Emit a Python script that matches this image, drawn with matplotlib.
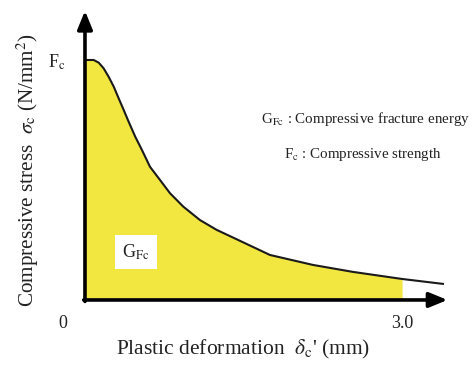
import matplotlib
matplotlib.use("Agg")
import matplotlib.pyplot as plt
import numpy as np

plt.rcParams["font.family"] = ["Liberation Serif", "DejaVu Serif"]
plt.rcParams["mathtext.fontset"] = "stix"

# Softening curve: plastic deformation (mm) vs. normalised compressive stress (sigma / Fc)
deformation = [0.0, 0.082, 0.130, 0.177, 0.224, 0.272, 0.319, 0.366, 0.413,
               0.476, 0.539, 0.615, 0.710, 0.804, 0.930, 1.088, 1.246, 1.435,
               1.75, 2.157, 2.535, 3.0, 3.387]
stress = [1.0, 1.0, 0.989, 0.965, 0.930, 0.889, 0.840, 0.792, 0.743,
          0.680, 0.625, 0.555, 0.500, 0.445, 0.389, 0.333, 0.292, 0.253,
          0.1875, 0.146, 0.117, 0.0875, 0.067]
x_limit = 3.0
tick_labels = ["0", "3.0"]

fig = plt.figure(figsize=(4.77, 3.65), dpi=100)
ax = fig.add_axes([0, 0, 1, 1])
ax.set_xlim(-0.804, 3.709)
ax.set_ylim(-0.271, 1.25)
ax.axis("off")

x = np.array(deformation)
y = np.array(stress)
mask = x <= x_limit
ax.fill_between(x[mask], 0, y[mask], color="#F2E640", lw=0, zorder=1)
ax.plot(x, y, color="#1a1a1a", lw=1.5, zorder=3, solid_joinstyle="round")

# axes with arrow heads
arrow = dict(arrowstyle="-|>,head_length=1.1,head_width=0.45", color="black",
             lw=2.6, shrinkA=0, shrinkB=0)
ax.annotate("", xy=(3.43, 0), xytext=(-0.012, 0), arrowprops=arrow, zorder=4)
ax.annotate("", xy=(0, 1.205), xytext=(0, -0.006), arrowprops=arrow, zorder=4)

ax.text(-0.21, -0.1, tick_labels[0], fontsize=13, ha="center", va="center", color="#222")
ax.text(3.0, -0.1, tick_labels[1], fontsize=13, ha="center", va="center", color="#222")
ax.text(-0.27, 0.99, r"F$_{\rm c}$", fontsize=13, ha="center", va="center", color="#222")

ax.text(1.67, 0.755, r"G$_{\rm Fc}$ : Compressive fracture energy", fontsize=10.8,
        ha="left", va="center", color="#222")
ax.text(1.88, 0.605, r"F$_{\rm c}$ : Compressive strength", fontsize=10.8,
        ha="left", va="center", color="#222")

ax.text(0.48, 0.2, r"G$_{\rm Fc}$", fontsize=13, ha="center", va="center", color="#222",
        bbox=dict(boxstyle="square,pad=0.4", fc="white", ec="none"), zorder=5)

ax.text(1.5, -0.208, r"Plastic deformation  $\delta_{\rm c}$' (mm)", fontsize=15.5,
        ha="center", va="center", color="#222")
ax.text(-0.54, 0.542, r"Compressive stress  $\sigma_{\rm c}$ (N/mm$^2$)", fontsize=15.2,
        ha="center", va="center", rotation=90, color="#222")

fig.savefig("out.png", dpi=100)
